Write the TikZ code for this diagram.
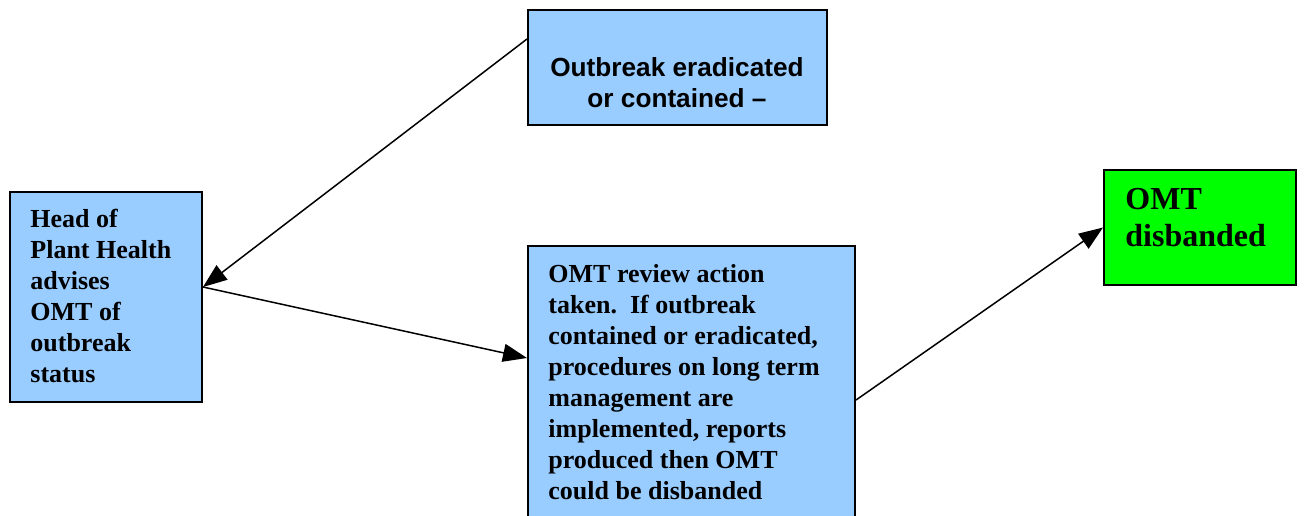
\documentclass[tikz,border=0pt]{standalone}
\usepackage{fontspec}
\setmainfont{Liberation Serif}
\setsansfont{Liberation Sans}
\usetikzlibrary{arrows.meta}
\definecolor{boxblue}{HTML}{99CCFF}
\definecolor{boxgreen}{HTML}{00FF00}
\begin{document}
\begin{tikzpicture}
[x=0.5pt,y=-0.5pt,
  boxdecorate/.style={shape=rectangle,draw,line width=1pt,fill=boxblue,inner sep=0pt},%
  textdecorate/.style={inner sep=0pt,align=left,font=\bfseries\fontsize{13}{15.5}\selectfont},%
  linedecorate/.style={-{Triangle[length=12pt,width=9pt]},line width=0.75pt}]
\clip (0,0) rectangle (1304,515);
% boxes
\node (contained) at (677.5,67.5) [boxdecorate,minimum width=149.5pt,minimum height=57.5pt] {};
\node (head) at (106,297) [boxdecorate,minimum width=96pt,minimum height=105pt] {};
\node (review) at (691.5,381.5) [boxdecorate,minimum width=163.5pt,minimum height=135.5pt] {};
\node (disband) at (1200,227.5) [boxdecorate,fill=boxgreen,minimum width=96pt,minimum height=57.5pt] {};
% texts (placed on the baseline of their last line)
\node (containedtext) at (677,107) [textdecorate,anchor=base,align=center,font=\sffamily\bfseries\fontsize{13.1}{15.5}\selectfont] {Outbreak eradicated\\or contained --};
\node (headtext) at (30,382) [textdecorate,anchor=base west] {Head of\\Plant Health\\advises\\OMT of\\outbreak\\status};
\node (reviewtext) at (548,499) [textdecorate,anchor=base west] {OMT review action\\taken.\ \ If outbreak\\contained or eradicated,\\procedures on long term\\management are\\implemented, reports\\produced then OMT\\could be disbanded};
\node (disbandtext) at (1125,246) [textdecorate,anchor=base west,font=\bfseries\fontsize{16}{18.5}\selectfont] {OMT\\disbanded};
% arrow ends
\coordinate (containedout) at ([yshift=-15pt]contained.north west);
\coordinate (headin) at ([yshift=5pt]head.east);
\coordinate (reviewin) at ([yshift=11.75pt]review.west);
\coordinate (reviewout) at ([yshift=-9.25pt]review.east);
% arrows
\path
(containedout) edge[linedecorate] (headin)
(headin) edge[linedecorate] (reviewin)
(reviewout) edge[linedecorate] (disband.west);
\end{tikzpicture}
\end{document}
